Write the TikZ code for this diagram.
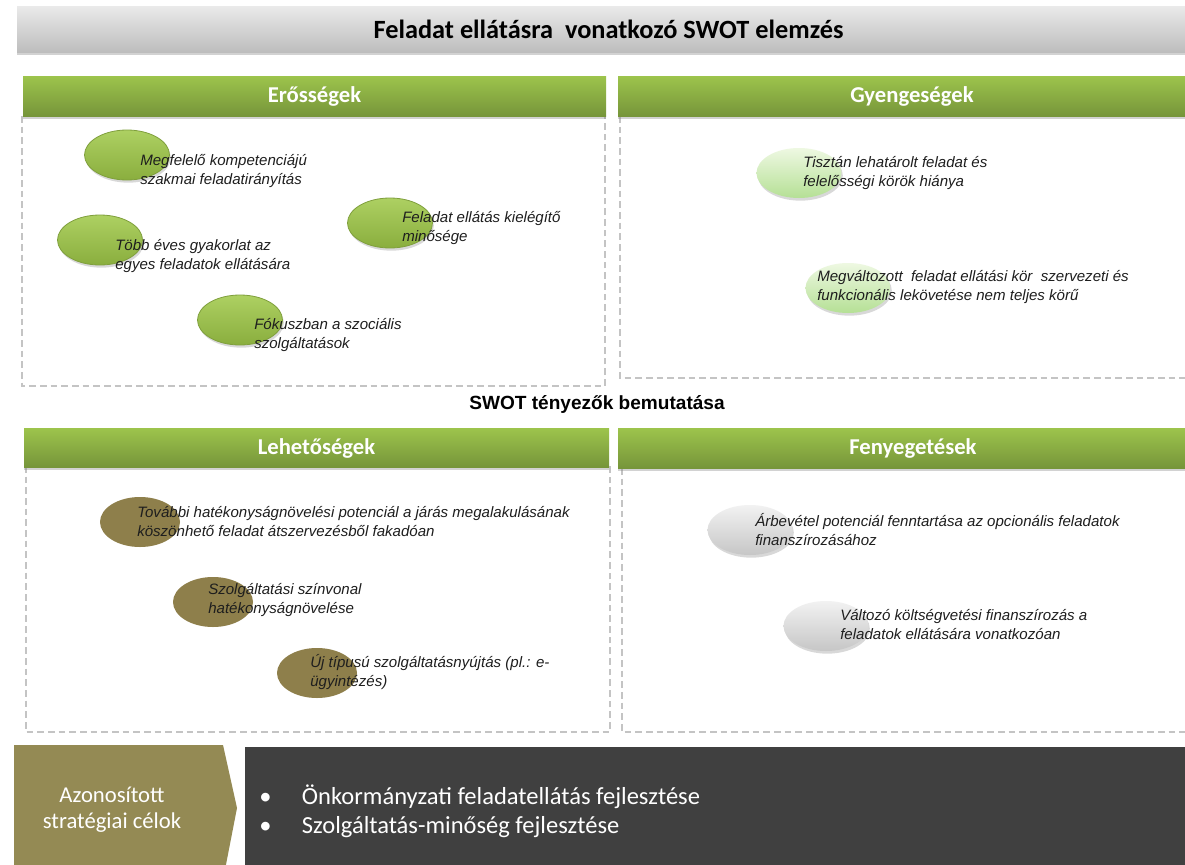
\documentclass[tikz,border=0pt]{standalone}
\usepackage{fontspec}
\setmainfont{Liberation Sans}
\newfontfamily\calfont{Carlito}
\usetikzlibrary{shapes.geometric,shadows}
\definecolor{hdrtop}{HTML}{9DC44C}
\definecolor{hdrbot}{HTML}{76953A}
\definecolor{tgtop}{HTML}{EAEAEA}
\definecolor{tgbot}{HTML}{BDBDBD}
\definecolor{dashgray}{HTML}{C4C4C4}
\definecolor{sgtop}{HTML}{ADD062}
\definecolor{sgbot}{HTML}{8AAE3E}
\definecolor{sgline}{HTML}{7F9F3C}
\definecolor{wktop}{HTML}{EEF8E2}
\definecolor{wkbot}{HTML}{B5E095}
\definecolor{olivefill}{HTML}{8E7F4B}
\definecolor{thtop}{HTML}{F2F2F2}
\definecolor{thbot}{HTML}{C6C6C6}
\definecolor{goalolive}{HTML}{948A54}
\definecolor{darkpanel}{HTML}{404040}
\definecolor{txt}{HTML}{1E1E1E}
\begin{document}
\begin{tikzpicture}[x=0.75pt,y=-0.75pt,
  titlebar/.style={shade,top color=tgtop,bottom color=tgbot,
    drop shadow={opacity=0.35,shadow xshift=0pt,shadow yshift=-2.5pt},
    minimum height=46*0.75pt,inner sep=0pt,
    font=\calfont\bfseries\fontsize{19.75pt}{22pt}\selectfont,text=black},
  hdr/.style={shade,top color=hdrtop,bottom color=hdrbot,
    drop shadow={opacity=0.35,shadow xshift=0pt,shadow yshift=-2.5pt},
    inner sep=0pt,text=white,font=\calfont\bfseries\fontsize{17pt}{19pt}\selectfont},
  dbox/.style={draw=dashgray,line width=1pt,dash pattern=on 5pt off 3pt},
  sbub/.style={ellipse,shade,top color=sgtop,bottom color=sgbot,draw=sgline,line width=0.6pt,
    minimum width=85*0.75pt,minimum height=50*0.75pt,inner sep=0pt,
    drop shadow={opacity=0.3,shadow xshift=1pt,shadow yshift=-2pt}},
  wbub/.style={ellipse,shade,top color=wktop,bottom color=wkbot,
    minimum width=85*0.75pt,minimum height=50*0.75pt,inner sep=0pt,
    drop shadow={opacity=0.3,shadow xshift=1pt,shadow yshift=-2pt}},
  obub/.style={ellipse,fill=olivefill,
    minimum width=80*0.75pt,minimum height=50*0.75pt,inner sep=0pt},
  tbub/.style={ellipse,shade,top color=thtop,bottom color=thbot,
    minimum width=85*0.75pt,minimum height=50*0.75pt,inner sep=0pt,
    drop shadow={opacity=0.3,shadow xshift=1pt,shadow yshift=-2pt}},
  itm/.style={anchor=base west,align=left,inner sep=0pt,text=txt,
    font=\itshape\fontsize{11.3pt}{14.25pt}\selectfont}
]
\useasboundingbox (0,0) rectangle (1185,864);
\fill[white] (0,0) rectangle (1185,864);

% title
\node[titlebar,minimum width=1183*0.75pt] (title) at (608.5,29) {Feladat ellátásra\ \ vonatkozó SWOT elemzés};

% dashed boxes
\draw[dbox] (22,116) rectangle (605,386);
\draw[dbox] (620,116) rectangle (1200,378);
\draw[dbox] (26,466) rectangle (610,732);
\draw[dbox] (622,468) rectangle (1200,732);

% headers
\node[hdr,minimum width=583*0.75pt,minimum height=40*0.75pt,text depth=1.5pt] (hS) at (314.5,96) {Erősségek};
\node[hdr,minimum width=588*0.75pt,minimum height=40*0.75pt,text depth=1.5pt] (hW) at (912,96) {Gyengeségek};
\node[hdr,minimum width=585*0.75pt,minimum height=39*0.75pt,text depth=1.5pt] (hO) at (316.5,447.5) {Lehetőségek};
\node[hdr,minimum width=590*0.75pt,minimum height=40*0.75pt,text depth=1.5pt] (hT) at (913,448) {Fenyegetések};

\node[anchor=base,inner sep=0pt,font=\bfseries\fontsize{14.3pt}{16pt}\selectfont] (mid) at (597,409) {SWOT tényezők bemutatása};

% strengths
\node[sbub] (s1) at (127,155) {};
\node[sbub] (s2) at (100,240) {};
\node[sbub] (s3) at (390,223) {};
\node[sbub] (s4) at (240,320) {};
\node[itm] (ts1) at (140,184) {Megfelelő kompetenciájú\\szakmai feladatirányítás};
\node[itm] (ts2) at (115,269) {Több éves gyakorlat az\\egyes feladatok ellátására};
\node[itm] (ts3) at (402,241) {Feladat ellátás kielégítő\\minősége};
\node[itm] (ts4) at (254,348) {Fókuszban a szociális\\szolgáltatások};

% weaknesses
\node[wbub] (w1) at (799,173) {};
\node[wbub] (w2) at (848,288) {};
\node[itm] (tw1) at (803,186) {Tisztán lehatárolt feladat és\\felelősségi körök hiánya};
\node[itm] (tw2) at (817,300) {Megváltozott\ \ feladat ellátási kör\ \ szervezeti és\\funkcionális lekövetése nem teljes körű};

% opportunities
\node[obub] (o1) at (140,522) {};
\node[obub] (o2) at (213,602) {};
\node[obub] (o3) at (317,673) {};
\node[itm] (to1) at (137,536) {További hatékonyságnövelési potenciál a járás megalakulásának\\köszönhető feladat átszervezésből fakadóan};
\node[itm] (to2) at (208,613) {Szolgáltatási színvonal\\hatékonyságnövelése};
\node[itm] (to3) at (310,686) {Új típusú szolgáltatásnyújtás (pl.: e-\\ügyintézés)};

% threats
\node[tbub] (t1) at (750,530) {};
\node[tbub] (t2) at (826,626) {};
\node[itm] (tt1) at (755,545) {Árbevétel potenciál fenntartása az opcionális feladatok\\finanszírozásához};
\node[itm] (tt2) at (840,639) {Változó költségvetési finanszírozás a\\feladatok ellátására vonatkozóan};

% bottom
\fill[goalolive] (14,745) -- (223,745) -- (237,808) -- (223,880) -- (14,880) -- cycle;
\fill[darkpanel] (245,747) rectangle (1200,880);
\node[align=center,inner sep=0pt,text=white,font=\calfont\fontsize{17pt}{19.5pt}\selectfont] (goal) at (112,810) {Azonosított\\stratégiai célok};
\node[anchor=base west,align=left,inner sep=0pt,text=white,font=\calfont\fontsize{18.4pt}{21.75pt}\selectfont] (goals) at (259,833)
  {\makebox[32pt][l]{•}Önkormányzati feladatellátás fejlesztése\\\makebox[32pt][l]{•}Szolgáltatás-minőség fejlesztése};
\end{tikzpicture}
\end{document}
